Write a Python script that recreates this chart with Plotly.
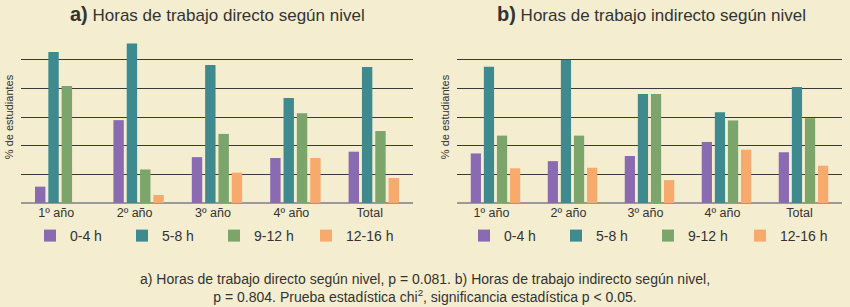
import plotly.graph_objects as go

categories = ["1º año", "2º año", "3º año", "4º año", "Total"]
series_names = ["0-4 h", "5-8 h", "9-12 h", "12-16 h"]
colors = ["#8a6bb2", "#3f8a8e", "#7ba56a", "#f7aa6c"]

# a) Horas de trabajo directo (% de estudiantes)
direct_0_4 = [5.7, 28.9, 16.0, 15.7, 17.9]
direct_5_8 = [52.7, 55.6, 48.1, 36.6, 47.4]
direct_9_12 = [40.8, 11.7, 24.1, 31.3, 25.1]
direct_12_16 = [0.0, 2.8, 10.6, 15.7, 8.7]

# b) Horas de trabajo indirecto (% de estudiantes)
indirect_0_4 = [17.3, 14.6, 16.4, 21.3, 17.7]
indirect_5_8 = [47.5, 50.0, 38.0, 31.7, 40.5]
indirect_9_12 = [23.5, 23.5, 38.0, 28.8, 29.6]
indirect_12_16 = [12.1, 12.3, 8.0, 18.6, 13.0]

direct = [direct_0_4, direct_5_8, direct_9_12, direct_12_16]
indirect = [indirect_0_4, indirect_5_8, indirect_9_12, indirect_12_16]

BG = "#f4edd0"
FONT = "Liberation Sans, Arial, sans-serif"

fig = go.Figure()
for i, name in enumerate(series_names):
    fig.add_trace(go.Bar(x=categories, y=direct[i], name=name, marker_color=colors[i],
                         marker_line_width=0, xaxis="x", yaxis="y", legend="legend"))
for i, name in enumerate(series_names):
    fig.add_trace(go.Bar(x=categories, y=indirect[i], name=name, marker_color=colors[i],
                         marker_line_width=0, xaxis="x2", yaxis="y2", legend="legend2"))

yax = dict(range=[0, 60], dtick=10, showticklabels=False, ticks="",
           showgrid=True, gridcolor="#3a3a3a", gridwidth=1,
           zeroline=True, zerolinecolor="#9a9a9a", zerolinewidth=1.5,
           title=dict(text="% de estudiantes", font=dict(family=FONT, size=11, color="#333"), standoff=4),
           fixedrange=True)
xax = dict(showgrid=False, ticks="", tickfont=dict(family=FONT, size=12.5, color="#333"),
           showline=False, ticklabelshift=-4)

legend_common = dict(orientation="h", font=dict(family=FONT, size=14, color="#333"),
                     bgcolor="rgba(0,0,0,0)", entrywidth=47, entrywidthmode="pixels",
                     yanchor="middle", xanchor="left", itemclick=False, traceorder="normal")

fig.update_layout(
    width=850, height=307,
    margin=dict(l=0, r=0, t=0, b=0, autoexpand=False),
    paper_bgcolor=BG, plot_bgcolor=BG,
    barmode="group", bargap=0.32, bargroupgap=0.22,
    showlegend=True,
    xaxis=dict(domain=[21/850, 413/850], anchor="y", **xax),
    yaxis=dict(domain=[104/307, 276/307], anchor="x", **yax),
    xaxis2=dict(domain=[457/850, 842/850], anchor="y2", **xax),
    yaxis2=dict(domain=[104/307, 276/307], anchor="x2", **yax),
    legend=dict(x=30/850, y=1 - 236/307, **legend_common),
    legend2=dict(x=464/850, y=1 - 236/307, **legend_common),
    annotations=[
        dict(text="<b><span style='font-size:20px'>a)</span></b> Horas de trabajo directo según nivel",
             x=217/850, y=1 - 14/307,
             xref="paper", yref="paper", showarrow=False, xanchor="center", yanchor="middle",
             font=dict(family=FONT, size=17, color="#333")),
        dict(text="<b><span style='font-size:20px'>b)</span></b> Horas de trabajo indirecto según nivel",
             x=651/850, y=1 - 14/307,
             xref="paper", yref="paper", showarrow=False, xanchor="center", yanchor="middle",
             font=dict(family=FONT, size=17, color="#333")),
        dict(text="a) Horas de trabajo directo según nivel, p = 0.081. b) Horas de trabajo indirecto según nivel,<br>"
                  "p = 0.804. Prueba estadística chi<sup>2</sup>, significancia estadística p &lt; 0.05.",
             x=0.5, y=1 - 288/307, xref="paper", yref="paper", showarrow=False,
             xanchor="center", yanchor="middle", align="center",
             font=dict(family=FONT, size=14, color="#333")),
    ],
)

fig.write_html("out.html", config={"displayModeBar": False},
               post_script="document.body.style.margin='0';")
